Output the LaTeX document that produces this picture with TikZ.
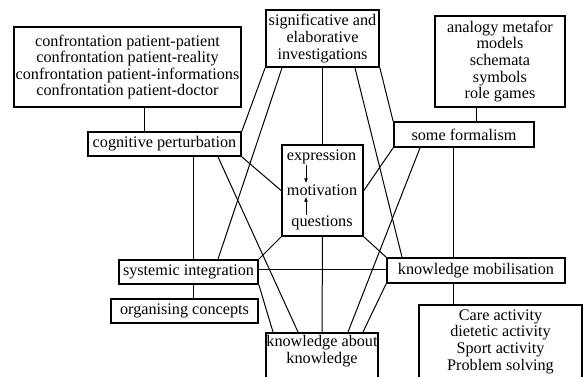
\documentclass[tikz,border=0pt]{standalone}
\usepackage{fontspec}
\setmainfont{Liberation Serif}
\usetikzlibrary{arrows.meta}
\begin{document}
\begin{tikzpicture}[x=1pt,y=-1pt,
  box/.style={draw, line width=1.8pt, inner sep=0pt, align=center, font=\fontsize{16.2}{16.6}\selectfont},
  txt/.style={inner sep=1pt, align=center, font=\fontsize{16.2}{16.6}\selectfont},
  conn/.style={line width=1pt},
  arr/.style={line width=1pt, -{Latex[length=5pt,width=4pt]}}]
\useasboundingbox (0,0) rectangle (587,376);
\clip (0,0) rectangle (587,376);
\fill[white] (0,0) rectangle (587,376);
% boxes
\node[box, minimum width=227, minimum height=80] (conf) at (127.5,67) {confrontation patient-patient\\confrontation patient-reality\\confrontation patient-informations\\confrontation patient-doctor};
\node[box, minimum width=153, minimum height=24] (cog) at (164.5,144) {cognitive perturbation};
\node[box, minimum width=113, minimum height=57] (sig) at (322.5,38.5) {significative and\\elaborative\\investigations};
\node[box, minimum width=130, minimum height=91] (ana) at (500,61.5) {analogy metafor\\models\\schemata\\symbols\\role games};
\node[box, minimum width=140, minimum height=25] (form) at (464,134.5) {some formalism};
\node[box, minimum width=81, minimum height=91] (ctr) at (322.5,190.5) {};
\node[txt] (expr) at (321.5,157) {expression};
\node[txt] (motiv) at (322,190) {motivation};
\node[txt] (ques) at (322,223) {questions};
\node[box, minimum width=139, minimum height=24] (sys) at (188.5,272) {systemic integration};
\node[box, minimum width=147, minimum height=24] (org) at (184.5,311) {organising concepts};
\node[box, minimum width=178, minimum height=25] (kmob) at (476,270.5) {knowledge mobilisation};
\node[box, minimum width=112, minimum height=60, anchor=north,
  label={[txt, anchor=north, yshift=-2pt]north:{knowledge about\\knowledge}}] (kak) at (322,332) {};
\node[box, minimum width=163, minimum height=73] (care) at (500.5,341.5) {Care activity\\dietetic activity\\Sport activity\\Problem solving};
% helper coordinates
\coordinate (ax) at (306,0);
\coordinate (x144) at (144,0);
\coordinate (x476) at (476,0);
\coordinate (x193) at (193,0);
\coordinate (x453) at (453,0);
\coordinate (x282) at (282,0);
\coordinate (x218) at (218,0);
\coordinate (x298) at (298,0);
\coordinate (x273) at (273,0);
\coordinate (x355) at (355,0);
\coordinate (x402) at (402,0);
\coordinate (x420) at (420,0);
\coordinate (x348) at (348,0);
\coordinate (x363) at (363,0);
\coordinate (hy) at (0,269);
% arrows in centre box
\draw[arr] (expr.south -| ax) -- (motiv.north -| ax);
\draw[arr] (ques.north -| ax) -- (motiv.south -| ax);
% connectors
\draw[conn] (conf.south -| x144) -- (cog.north -| x144);
\draw[conn] (ana.south -| x476) -- (form.north -| x476);
\draw[conn] (sys.south -| x193) -- (org.north -| x193);
\draw[conn] (kmob.south -| x453) -- (care.north -| x453);
\draw[conn] (cog.south -| x193) -- (sys.north -| x193);
\draw[conn] (sig.south) -- (ctr.north);
\draw[conn] (ctr.south) -- (kak.north);
\draw[conn] (form.south -| x453) -- (kmob.north -| x453);
\draw[conn] (sys.east |- hy) -- (kmob.west |- hy);
\draw[conn] (cog.south east) -- (ctr.west);
\draw[conn] (ctr.east) -- (form.south west);
\draw[conn] (ctr.south west) -- (sys.north east);
\draw[conn] (ctr.south east) -- (kmob.north west);
\draw[conn] (sig.south west) -- (cog.north east);
\draw[conn] (sig.south -| x282) -- (sys.north -| x218);
\draw[conn] (cog.south -| x218) -- (kak.north -| x298);
\draw[conn] (sys.south east) -- (kak.north -| x273);
\draw[conn] (sig.south east) -- (form.north west);
\draw[conn] (sig.south -| x355) -- (kmob.north -| x402);
\draw[conn] (form.south -| x420) -- (kak.north -| x348);
\draw[conn] (kmob.south west) -- (kak.north -| x363);
\end{tikzpicture}
\end{document}
